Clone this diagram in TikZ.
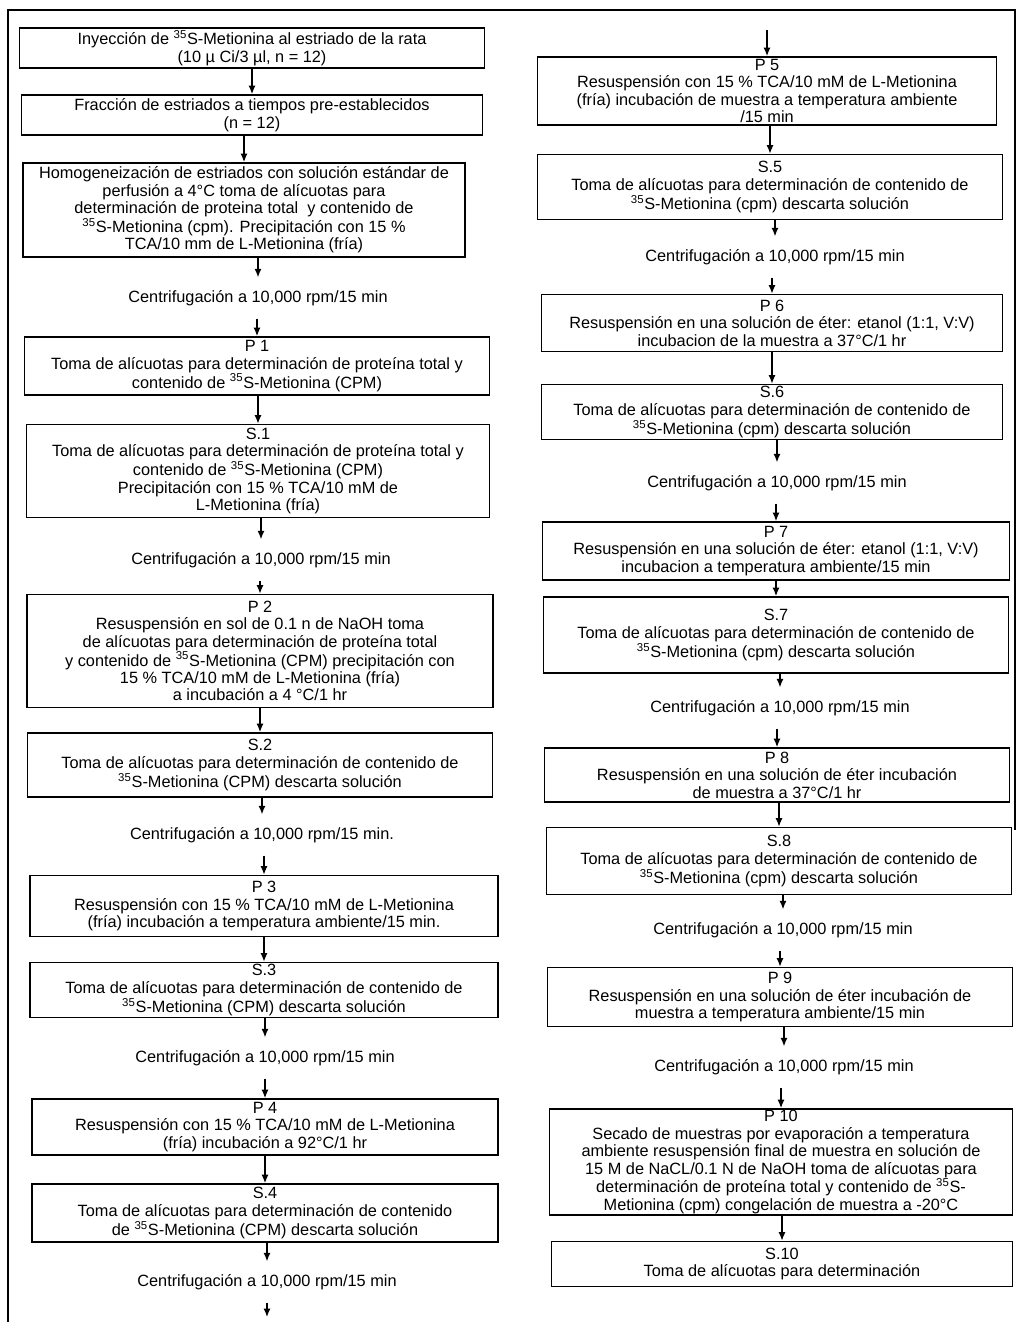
\documentclass[tikz,border=0pt]{standalone}
\usepackage{fontspec}
\setmainfont{Liberation Sans}
\usetikzlibrary{arrows.meta, positioning}

\begin{document}
\begin{tikzpicture}[x=0.025cm, y=-0.025cm,
    every node/.style={font=\fontsize{11.6}{12.4}\selectfont},
    caja/.style 2 args={draw, line width=1.2pt, align=center, inner sep=0pt,
      minimum width=#1*0.025cm, minimum height=#2*0.025cm},
    centri/.style={align=center, inner xsep=2pt, inner ysep=9pt},
    flecha/.style={line width=1pt, -{Latex[length=6pt,width=5pt]}}]
  \useasboundingbox (0,0) rectangle (1022,1322);
  % marco
  \draw[line width=1.2pt] (8,1322) -- (8,10) -- (1015,10) -- (1015,830);

  % columna izquierda
  \node[caja={465}{40}] (b1) at (252,48)
    {Inyección de \textsuperscript{35}S-Metionina al estriado de la rata\\(10 µ Ci/3 µl, n = 12)};
  \node[caja={461}{40}] (b2) at (252,115)
    {Fracción de estriados a tiempos pre-establecidos\\(n = 12)};
  \node[caja={442}{94}] (b3) at (244,210)
    {Homogeneización de estriados con solución estándar de\\perfusión a 4°C toma de alícuotas para\\determinación de proteina total\ \ y contenido de\\\textsuperscript{35}S-Metionina (cpm). Precipitación con 15 \%\\TCA/10 mm de L-Metionina (fría)};
  \node[caja={465}{58}] (p1) at (257,366)
    {P 1\\Toma de alícuotas para determinación de proteína total y\\contenido de \textsuperscript{35}S-Metionina (CPM)};
  \node[caja={463}{93}] (s1) at (258,471)
    {S.1\\Toma de alícuotas para determinación de proteína total y\\contenido de \textsuperscript{35}S-Metionina (CPM)\\Precipitación con 15 \% TCA/10 mM de\\L-Metionina (fría)};
  \node[caja={466}{113}] (p2) at (260,651)
    {P 2\\Resuspensión en sol de 0.1 n de NaOH toma\\de alícuotas para determinación de proteína total\\y contenido de \textsuperscript{35}S-Metionina (CPM) precipitación con\\15 \% TCA/10 mM de L-Metionina (fría)\\a incubación a 4 °C/1 hr};
  \node[caja={465}{64}] (s2) at (260,765)
    {S.2\\Toma de alícuotas para determinación de contenido de\\\textsuperscript{35}S-Metionina (CPM) descarta solución};
  \node[caja={468}{61}] (p3) at (264,906)
    {P 3\\Resuspensión con 15 \% TCA/10 mM de L-Metionina\\(fría) incubación a temperatura ambiente/15 min.};
  \node[caja={468}{55}] (s3) at (264,990)
    {S.3\\Toma de alícuotas para determinación de contenido de\\\textsuperscript{35}S-Metionina (CPM) descarta solución};
  \node[caja={466}{56}] (p4) at (265,1127)
    {P 4\\Resuspensión con 15 \% TCA/10 mM de L-Metionina\\(fría) incubación a 92°C/1 hr};
  \node[caja={466}{58}] (s4) at (265,1213)
    {S.4\\Toma de alícuotas para determinación de contenido\\de \textsuperscript{35}S-Metionina (CPM) descarta solución};
  \coordinate (fin) at (267,1317);

  % columna derecha
  \coordinate (ini) at (767,30);
  \node[caja={459}{68}] (p5) at (767,91)
    {P 5\\Resuspensión con 15 \% TCA/10 mM de L-Metionina\\(fría) incubación de muestra a temperatura ambiente\\/15 min};
  \node[caja={465}{65}] (s5) at (770,187)
    {S.5\\Toma de alícuotas para determinación de contenido de\\\textsuperscript{35}S-Metionina (cpm) descarta solución};
  \node[caja={461}{57}] (p6) at (772,323)
    {P 6\\Resuspensión en una solución de éter: etanol (1:1, V:V)\\incubacion de la muestra a 37°C/1 hr};
  \node[caja={461}{55}] (s6) at (772,412)
    {S.6\\Toma de alícuotas para determinación de contenido de\\\textsuperscript{35}S-Metionina (cpm) descarta solución};
  \node[caja={467}{58}] (p7) at (776,551)
    {P 7\\Resuspensión en una solución de éter: etanol (1:1, V:V)\\incubacion a temperatura ambiente/15 min};
  \node[caja={465}{76}] (s7) at (776,635)
    {S.7\\Toma de alícuotas para determinación de contenido de\\\textsuperscript{35}S-Metionina (cpm) descarta solución};
  \node[caja={465}{54}] (p8) at (777,775)
    {P 8\\Resuspensión en una solución de éter incubación\\de muestra a 37°C/1 hr};
  \node[caja={465}{67}] (s8) at (779,861)
    {S.8\\Toma de alícuotas para determinación de contenido de\\\textsuperscript{35}S-Metionina (cpm) descarta solución};
  \node[caja={465}{59}] (p9) at (780,997)
    {P 9\\Resuspensión en una solución de éter incubación de\\muestra a temperatura ambiente/15 min};
  \node[caja={463}{106}] (p10) at (781,1162)
    {P 10\\Secado de muestras por evaporación a temperatura\\ambiente resuspensión final de muestra en solución de\\15 M de NaCL/0.1 N de NaOH toma de alícuotas para\\determinación de proteína total y contenido de \textsuperscript{35}S-\\Metionina (cpm) congelación de muestra a -20°C};
  \node[caja={461}{45}] (s10) at (782,1264)
    {S.10\\Toma de alícuotas para determinación};

  % centrifugaciones
  \foreach \n/\x/\y/\p in {c1/258/298/, c2/261/560/, c3/262/835/., c4/265/1058/,
      c5/267/1282/, c6/775/257/, c7/777/483/, c8/780/708/, c9/783/930/, c10/784/1067/}
    \node[centri] (\n) at (\x,\y) {Centrifugación a 10,000 rpm/15 min\p};

  % flechas
  \foreach \a/\b in {b1/b2, b2/b3, b3/c1, c1/p1, p1/s1, s1/c2, c2/p2, p2/s2, s2/c3,
      c3/p3, p3/s3, s3/c4, c4/p4, p4/s4, s4/c5, p5/s5, s5/c6, c6/p6, p6/s6, s6/c7,
      c7/p7, p7/s7, s7/c8, c8/p8, p8/s8, s8/c9, c9/p9, p9/c10, c10/p10, p10/s10}
    \draw[flecha] (\a.south -| \b.north) -- (\b.north);
  \draw[flecha] (c5.south) -- (fin);
  \draw[flecha] (ini) -- (ini |- p5.north);
\end{tikzpicture}
\end{document}
